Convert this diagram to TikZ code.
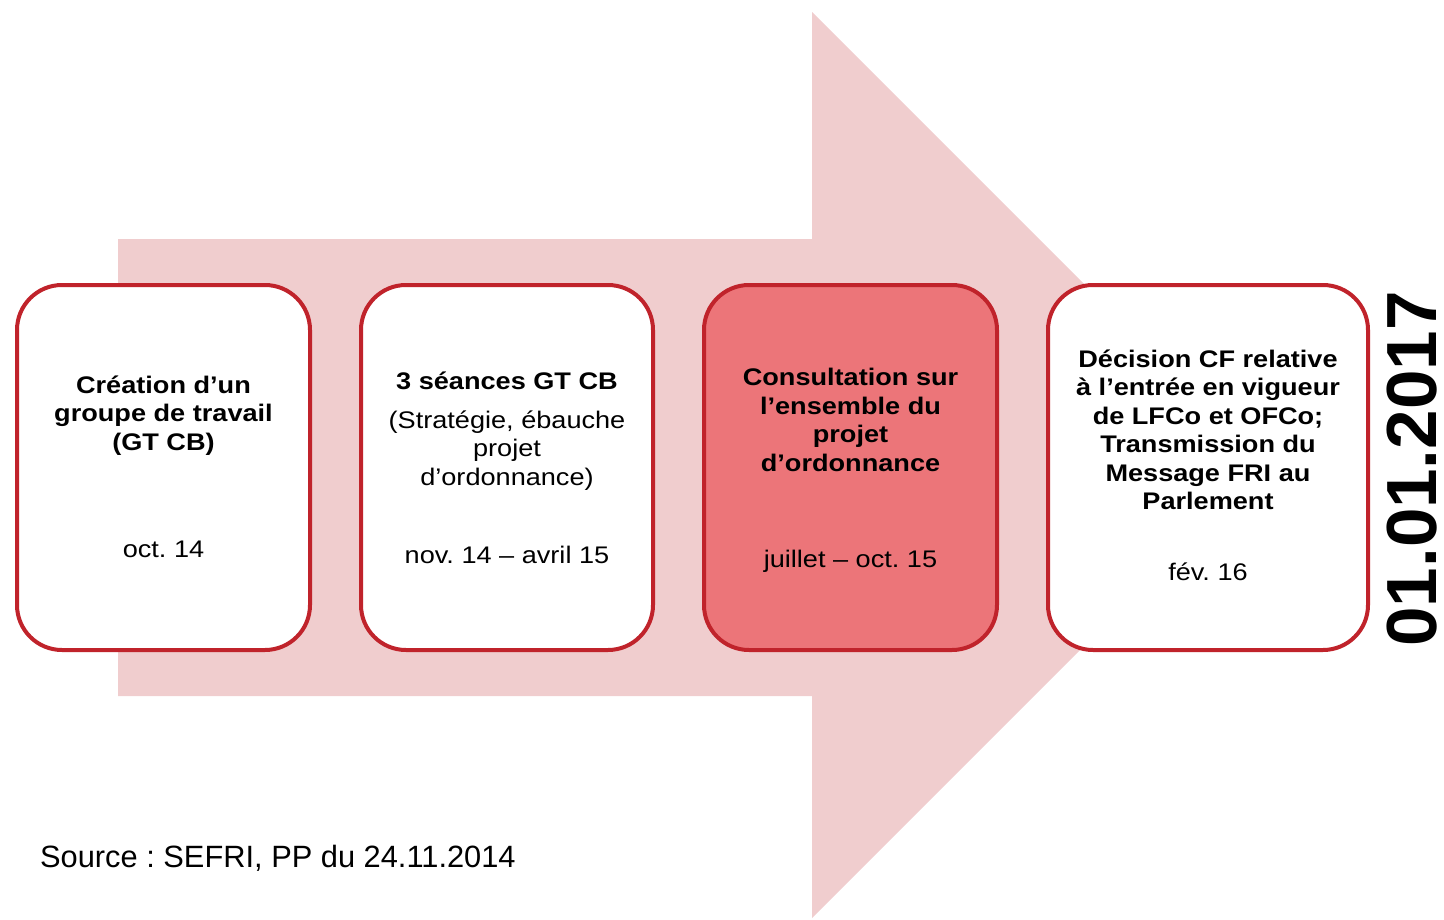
\documentclass[tikz,border=0pt]{standalone}
\usepackage{fontspec}
\setmainfont{Liberation Sans}
\newfontfamily\widefont[FakeStretch=1.13]{Liberation Sans}
\usetikzlibrary{positioning}

\definecolor{arrowpink}{HTML}{F0CDCE}
\definecolor{framered}{HTML}{C0232B}
\definecolor{stepred}{HTML}{EC7579}

\tikzset{
	phase/.style={draw=framered,line width=4pt,rounded corners=45pt,fill=white,
		minimum height=365pt,inner sep=0pt,anchor=north west},
	title/.style={font=\widefont\fontsize{24}{28.5}\selectfont\bfseries,align=center,inner sep=0pt},
	when/.style={font=\widefont\fontsize{24}{28.5}\selectfont,anchor=base,inner sep=0pt}
}

\begin{document}
\frenchspacing
\begin{tikzpicture}[x=1pt,y=-1pt]
	\useasboundingbox (0,0) rectangle (1444,919);
	% big arrow behind the steps
	\fill[arrowpink] (118,239) -- (812,239) -- (812,12) -- (1265,465)
		-- (812,918) -- (812,696) -- (118,696) -- cycle;
	
	% the four steps
	\node[phase,minimum width=293pt] (crea) at (15,283) {};
	\node[phase,minimum width=292pt,right=47pt of crea] (seances) {};
	\node[phase,minimum width=293pt,fill=stepred,right=47pt of seances] (consult) {};
	\node[phase,minimum width=320pt,right=47pt of consult] (decision) {};
	
	\node[title] (creaT) at ([yshift=52pt]crea.center)
		{Création d’un\\groupe de travail\\(GT CB)};
	\node[title] (seancesT) at ([yshift=36.5pt]seances.center)
		{3 séances GT CB\\[10pt]\mdseries(Stratégie, ébauche\\\mdseries projet\\\mdseries d’ordonnance)};
	\node[title] (consultT) at ([yshift=47.5pt]consult.center)
		{Consultation sur\\l’ensemble du\\projet\\d’ordonnance};
	\node[title] (decisionT) at ([yshift=37.5pt]decision.center)
		{Décision CF relative\\à l’entrée en vigueur\\de LFCo et OFCo;\\Transmission du\\Message FRI au\\Parlement};
	
	\node[when] (creaD) at ([yshift=-89.5pt]crea.center) {oct. 14};
	\node[when] (seancesD) at ([yshift=-95.5pt]seances.center) {nov. 14 – avril 15};
	\node[when] (consultD) at ([yshift=-99.5pt]consult.center) {juillet – oct. 15};
	\node[when] (decisionD) at ([yshift=-112.5pt]decision.center) {fév. 16};
	
	% entry into force
	\node[rotate=90,inner sep=0pt,font=\fontsize{71}{71}\selectfont\bfseries] (start) at (1412,469) {01.01.2017};
	
	\node[anchor=base west,inner sep=0pt,font=\fontsize{30.8}{30.8}\selectfont] (source) at (40,867)
		{Source : SEFRI, PP du 24.11.2014};
\end{tikzpicture}
\end{document}
